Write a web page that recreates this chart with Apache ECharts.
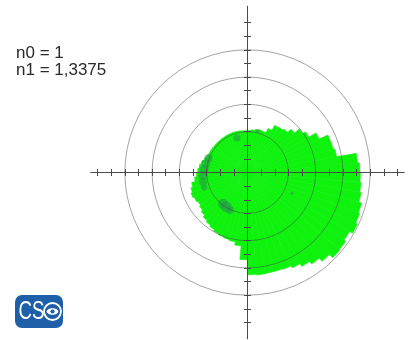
<!DOCTYPE html>
<html>
<head>
<meta charset="utf-8">
<script src="https://cdn.jsdelivr.net/npm/echarts@6/dist/echarts.min.js"></script>
<style>
  html, body { margin: 0; padding: 0; background: #ffffff; }
  #chart { width: 412px; height: 340px; }
</style>
</head>
<body>
<div id="chart"></div>
<script>
// Sector start angles (degrees, counter-clockwise from +x), 5° sectors
const sectorAngles = [
  0, 5, 10, 15, 20, 25, 30, 35, 40, 45, 50, 55,
  60, 65, 70, 75, 80, 85, 90, 95, 100, 105, 110, 115,
  120, 125, 130, 135, 140, 145, 150, 155, 160, 165, 170, 175,
  180, 185, 190, 195, 200, 205, 210, 215, 220, 225, 230, 235,
  240, 245, 250, 255, 260, 265, 270, 275, 280, 285, 290, 295,
  300, 305, 310, 315, 320, 325, 330, 335, 340, 345, 350, 355
];

// Extent of the measured zone in each sector (mm)
const zoneRadius = [
  4.12, 4.05, 3.32, 3.26, 3.25, 2.90, 2.60, 2.48, 2.25, 2.08, 2.03, 2.00,
  1.78, 1.60, 1.62, 1.60, 1.57, 1.54, 1.53, 1.54, 1.55, 1.56, 1.56, 1.56,
  1.56, 1.56, 1.56, 1.56, 1.56, 1.57, 1.57, 1.60, 1.65, 1.72, 1.78, 1.83,
  1.87, 1.95, 2.08, 2.15, 2.20, 2.15, 2.10, 2.15, 2.22, 2.30, 2.36, 2.42,
  2.48, 2.52, 2.55, 2.58, 2.70, 3.20, 3.75, 3.77, 3.76, 3.76, 3.78, 3.86,
  3.98, 4.10, 4.25, 4.42, 4.40, 4.32, 4.45, 4.38, 4.33, 4.23, 4.18, 4.14
];

// Darker spots inside the zone: [angle°, radius mm, size px]
const darkSpots = [
  [160, 1.52, 8], [168, 1.56, 9], [176, 1.60, 9], [184, 1.64, 9], [192, 1.67, 8], [199, 1.68, 6],
  [232, 1.46, 10], [238, 1.48, 11], [245, 1.52, 8],
  [107, 1.32, 7], [76, 1.57, 4], [335, 1.80, 3]
];

// Reference circles (radius, mm) and axis ticks (mm)
const ringRadii = [1.5, 2.5, 3.5, 4.5];
const tickValues = [
  -5.5, -5, -4.5, -4, -3.5, -3, -2.5, -2, -1.5, -1, -0.5,
  0.5, 1, 1.5, 2, 2.5, 3, 3.5, 4, 4.5, 5, 5.5
];

const infoLines = ['n0 = 1', 'n1 = 1,3375'];

// Layout
const CX = 247.5, CY = 172.5;     // map centre in px
const PX_PER_MM = 27.26;
const X_EXTENT = 5.75;            // half length of the horizontal line, mm
const Y_EXTENT = 6.1;             // half length of the vertical line, mm

const lineColor = '#4a4a4a';
const ringColor = 'rgba(70,70,70,0.55)';
const zoneColor = '#0ef20e';

const chart = echarts.init(document.getElementById('chart'), null, { renderer: 'canvas' });

const polar = [];
const angleAxis = [];
const radiusAxis = [];

// polar 0: zone sectors, polar 1: spots, polar 2..: reference circles
polar.push({ center: [CX, CY], radius: Y_EXTENT * PX_PER_MM });
angleAxis.push({ polarIndex: 0, type: 'category', data: sectorAngles.map(String),
  startAngle: 0, clockwise: false, boundaryGap: true, show: false });
radiusAxis.push({ polarIndex: 0, type: 'value', min: 0, max: Y_EXTENT, show: false });

polar.push({ center: [CX, CY], radius: Y_EXTENT * PX_PER_MM });
angleAxis.push({ polarIndex: 1, type: 'value', min: 0, max: 360,
  startAngle: 0, clockwise: false, show: false });
radiusAxis.push({ polarIndex: 1, type: 'value', min: 0, max: Y_EXTENT, show: false });

ringRadii.forEach((r, i) => {
  const idx = i + 2;
  polar.push({ center: [CX, CY], radius: r * PX_PER_MM });
  angleAxis.push({
    polarIndex: idx, type: 'value', min: 0, max: 360, z: 6,
    axisLine: { show: true, lineStyle: { color: ringColor, width: 0.9 } },
    axisTick: { show: false }, axisLabel: { show: false }, splitLine: { show: false }
  });
  radiusAxis.push({ polarIndex: idx, type: 'value', min: 0, max: r, show: false });
});

const crossAxis = (dim, inside) => {
  const ext = dim === 'x' ? X_EXTENT : Y_EXTENT;
  return {
    type: 'value',
    min: -ext, max: ext,
    position: dim === 'x' ? 'bottom' : 'left',
    z: 7,
    axisLine: { show: !inside, onZero: true, lineStyle: { color: lineColor, width: 1 } },
    axisTick: { show: true, inside: inside, length: 3.5, customValues: tickValues,
      lineStyle: { color: lineColor, width: 1 } },
    axisLabel: { show: false },
    splitLine: { show: false }
  };
};

const option = {
  backgroundColor: '#ffffff',
  animation: false,
  title: {
    text: infoLines.join('\n'),
    left: 11, top: 40,
    textStyle: { fontFamily: 'Liberation Sans, Arial, sans-serif', fontSize: 17,
      fontWeight: 'normal', color: '#2a2a2a', lineHeight: 17 }
  },
  grid: {
    left: CX - X_EXTENT * PX_PER_MM,
    top: CY - Y_EXTENT * PX_PER_MM,
    width: 2 * X_EXTENT * PX_PER_MM,
    height: 2 * Y_EXTENT * PX_PER_MM,
    containLabel: false
  },
  xAxis: [crossAxis('x', false), crossAxis('x', true)],
  yAxis: [crossAxis('y', false), crossAxis('y', true)],
  polar: polar,
  angleAxis: angleAxis,
  radiusAxis: radiusAxis,
  series: [
    {
      name: 'zone',
      type: 'bar',
      coordinateSystem: 'polar',
      polarIndex: 0,
      data: zoneRadius,
      barCategoryGap: '0%',
      z: 1,
      itemStyle: { color: zoneColor, borderColor: zoneColor, borderWidth: 0.6 }
    },
    {
      name: 'spots',
      type: 'scatter',
      coordinateSystem: 'polar',
      polarIndex: 1,
      data: darkSpots.map(d => [d[1], d[0]]),
      symbolSize: (v, p) => darkSpots[p.dataIndex][2],
      z: 2,
      itemStyle: { color: 'rgba(40,150,75,0.7)' }
    }
  ],
  graphic: [
    {
      type: 'group', left: 15, top: 295,
      children: [
        { type: 'rect', shape: { x: 0, y: 0, width: 48, height: 33, r: 7 },
          style: { fill: '#1f5ea9' } },
        { type: 'text', x: 3.5, y: 17, scaleX: 0.72,
          style: { text: 'CS', fill: '#ffffff', font: '26px "Liberation Sans", Arial, sans-serif',
            verticalAlign: 'middle' } },
        { type: 'circle', shape: { cx: 37.5, cy: 16.5, r: 8.5 },
          style: { fill: 'none', stroke: '#ffffff', lineWidth: 1.8 } },
        { type: 'ellipse', shape: { cx: 37.5, cy: 16.5, rx: 5.8, ry: 3.2 },
          style: { fill: '#ffffff' } },
        { type: 'circle', shape: { cx: 37.5, cy: 16.5, r: 2.1 },
          style: { fill: '#1f5ea9' } }
      ]
    }
  ]
};

chart.setOption(option);
</script>
</body>
</html>
